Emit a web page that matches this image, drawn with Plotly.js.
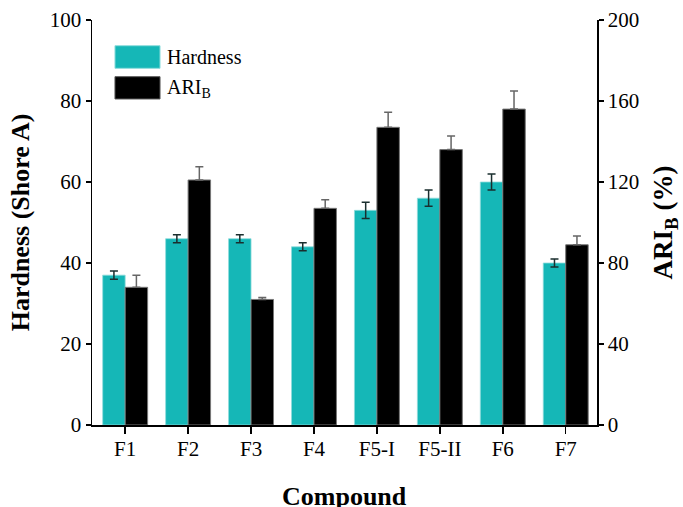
<!DOCTYPE html>
<html>
<head>
<meta charset="utf-8">
<script src="https://cdn.plot.ly/plotly-3.0.1.min.js"></script>
<style>html,body{margin:0;padding:0;background:#fff;}#chart{width:683px;height:507px;}</style>
</head>
<body>
<div id="chart"></div>
<script>
const compounds = ["F1", "F2", "F3", "F4", "F5-I", "F5-II", "F6", "F7"];
const hardness = [37, 46, 46, 44, 53, 56, 60, 40];
const hardnessErr = [1, 1, 1, 1, 2, 2, 2, 1];
const ariB = [68, 121, 62, 107, 147, 136, 156, 89];
const ariBErr = [6, 6.5, 1, 4.2, 7.4, 6.7, 9, 4.3];
const tickIdx = compounds.map((c, i) => i);

const FONT = "Liberation Serif";
const TEAL = "#15b7b7";
const xr = [-0.527, 7.497];

const traces = [
  {
    type: "bar", name: "Hardness", x: compounds, y: hardness,
    xaxis: "x", yaxis: "y", width: 0.357, offset: -0.357,
    marker: {color: TEAL, line: {color: "#8fdcdc", width: 0.8}},
    error_y: {type: "data", array: hardnessErr, visible: true, color: "#1a2e2e", thickness: 1.5, width: 4},
    showlegend: false
  },
  {
    type: "bar", name: "ARI<sub>B</sub>", x: compounds, y: ariB,
    xaxis: "x", yaxis: "y2", width: 0.357, offset: 0,
    marker: {color: "#000000", line: {color: "#777777", width: 1}},
    error_y: {type: "data", symmetric: false, array: ariBErr, arrayminus: ariBErr.map(() => 0), visible: true, color: "#666666", thickness: 1.5, width: 4},
    showlegend: false
  }
];

const layout = {
  width: 683, height: 507,
  margin: {l: 92, r: 86, t: 20, b: 82},
  paper_bgcolor: "#ffffff", plot_bgcolor: "#ffffff",
  font: {family: FONT, color: "#000", size: 20},
  barmode: "overlay",
  showlegend: false,
  xaxis: {
    type: "category", categoryarray: compounds, range: xr,
    showline: true, linecolor: "#000", linewidth: 1.5,
    ticks: "outside", ticklen: 7, tickwidth: 1.5, tickcolor: "#000",
    ticklabelstandoff: -3,
    showgrid: false, zeroline: false,
    tickfont: {family: FONT, size: 21, color: "#000"},
    automargin: false
  },
  xaxis2: {
    overlaying: "x", anchor: "y", side: "top", type: "linear", range: xr,
    tickvals: tickIdx, showticklabels: false,
    showline: true, linecolor: "#000", linewidth: 1.5,
    ticks: "inside", ticklen: 7, tickwidth: 1.5, tickcolor: "#000",
    showgrid: false, zeroline: false
  },
  yaxis: {
    range: [0, 100], dtick: 20, tick0: 0,
    showline: true, linecolor: "#000", linewidth: 1.5,
    ticks: "outside", ticklen: 5, tickwidth: 1.5, tickcolor: "#000",
    showgrid: false, zeroline: false,
    tickfont: {family: FONT, size: 21, color: "#000"},
    title: {text: "<b>Hardness (Shore A)</b>", font: {family: FONT, size: 26, color: "#000"}, standoff: 12},
    automargin: false
  },
  yaxis3: {
    overlaying: "y", anchor: "x", side: "left", range: [0, 100], dtick: 10, tick0: 0,
    ticks: "inside", ticklen: 6, tickwidth: 1.5, tickcolor: "#000",
    showticklabels: false, showline: false, showgrid: false, zeroline: false
  },
  yaxis2: {
    overlaying: "y", anchor: "x", side: "right", range: [0, 200], dtick: 40, tick0: 0,
    showline: true, linecolor: "#000", linewidth: 1.5,
    ticks: "outside", ticklen: 5, tickwidth: 1.5, tickcolor: "#000",
    showgrid: false, zeroline: false,
    tickfont: {family: FONT, size: 21, color: "#000"},
    title: {text: "<b>ARI<sub>B</sub> (%)</b>", font: {family: FONT, size: 27, color: "#000"}, standoff: 15},
    automargin: false
  },
  yaxis4: {
    overlaying: "y", anchor: "x", side: "right", range: [0, 200], dtick: 20, tick0: 0,
    ticks: "inside", ticklen: 6, tickwidth: 1.5, tickcolor: "#000",
    showticklabels: false, showline: false, showgrid: false, zeroline: false
  },
  shapes: [
    {type: "rect", xref: "paper", yref: "paper", x0: 0.0455, x1: 0.1347, y0: 0.8807, y1: 0.9365,
     fillcolor: TEAL, line: {color: "#8fdcdc", width: 1}},
    {type: "rect", xref: "paper", yref: "paper", x0: 0.0455, x1: 0.1347, y0: 0.805, y1: 0.860,
     fillcolor: "#000", line: {color: "#555", width: 1}}
  ],
  annotations: [
    {xref: "paper", yref: "paper", x: 0.1446, y: 0.9086, xanchor: "left", yanchor: "middle",
     text: "Hardness", showarrow: false, font: {family: FONT, size: 20, color: "#000"}},
    {xref: "paper", yref: "paper", x: 0.1446, y: 0.832, xanchor: "left", yanchor: "middle",
     text: "ARI<sub>B</sub>", showarrow: false, font: {family: FONT, size: 20, color: "#000"}},
    {xref: "paper", yref: "paper", x: 0.5, y: -0.176, xanchor: "center", yanchor: "middle",
     text: "<b>Compound</b>", showarrow: false, font: {family: FONT, size: 26, color: "#000"}}
  ]
};

Plotly.newPlot("chart", traces, layout, {staticPlot: true, displayModeBar: false});
</script>
</body>
</html>
